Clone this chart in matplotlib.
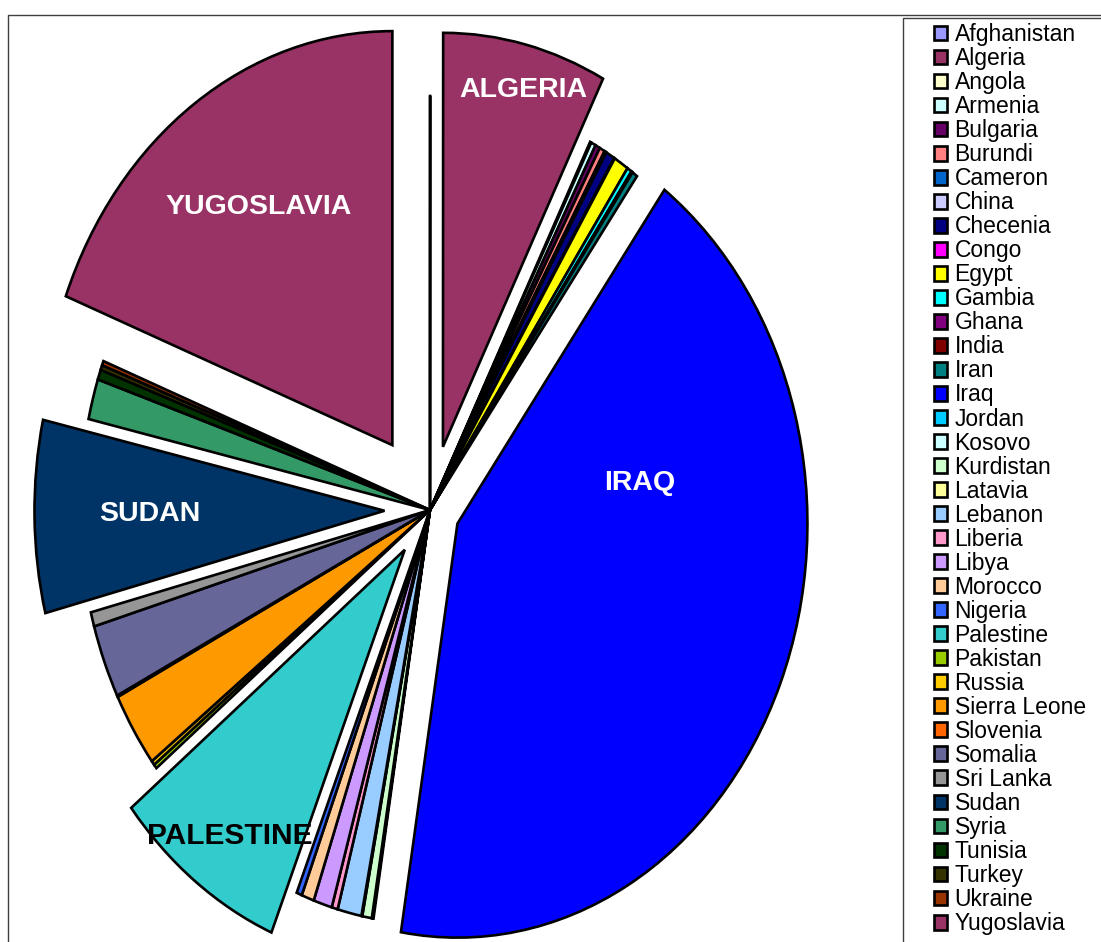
import matplotlib.pyplot as plt
from matplotlib.patches import Rectangle
from matplotlib.lines import Line2D

plt.rcParams["font.family"] = ["Liberation Sans", "DejaVu Sans"]

W, H = 1101, 942
CX, CY = 430, 510      # pie centre in pixels
RX, RY = 350, 414      # pie is stretched vertically

countries = ["Afghanistan", "Algeria", "Angola", "Armenia", "Bulgaria", "Burundi", "Cameron",
             "China", "Checenia", "Congo", "Egypt", "Gambia", "Ghana", "India", "Iran", "Iraq",
             "Jordan", "Kosovo", "Kurdistan", "Latavia", "Lebanon", "Liberia", "Libya", "Morocco",
             "Nigeria", "Palestine", "Pakistan", "Russia", "Sierra Leone", "Slovenia", "Somalia",
             "Sri Lanka", "Sudan", "Syria", "Tunisia", "Turkey", "Ukraine", "Yugoslavia"]
shares = [0.01, 7.55, 0.06, 0.22, 0.22, 0.25, 0.06,
          0.03, 0.42, 0.03, 0.69, 0.22, 0.03, 0.03, 0.25, 42.5,
          0.04, 0.04, 0.44, 0.04, 1.11, 0.28, 0.86, 0.58,
          0.25, 8.06, 0.17, 0.17, 2.92, 0.06, 2.86,
          0.56, 7.5, 1.58, 0.39, 0.19, 0.17, 19.14]
colors = ["#9999FF", "#993366", "#FFFFCC", "#CCFFFF", "#660066", "#FF8080", "#0066CC",
          "#CCCCFF", "#000080", "#FF00FF", "#FFFF00", "#00FFFF", "#800080", "#800000", "#008080", "#0000FF",
          "#00CCFF", "#CCFFFF", "#CCFFCC", "#FFFF99", "#99CCFF", "#FF99CC", "#CC99FF", "#FFCC99",
          "#3366FF", "#33CCCC", "#99CC00", "#FFCC00", "#FF9900", "#FF6600", "#666699",
          "#969696", "#003366", "#339966", "#003300", "#333300", "#993300", "#993366"]
exploded = {"Algeria": 0.157, "Iraq": 0.085, "Palestine": 0.12, "Sudan": 0.13, "Yugoslavia": 0.19}
explode = [exploded.get(c, 0.0) for c in countries]

# big-slice labels (text, pixel x, pixel y, colour, size)
slice_labels = [("ALGERIA", 523, 90, "white", 20.5), ("YUGOSLAVIA", 259, 207, "white", 20.5),
                ("IRAQ", 640, 483, "white", 20.5), ("SUDAN", 150, 514, "white", 20.5),
                ("PALESTINE", 230, 836, "black", 21.5)]


def px(x, y):
    return (x - CX) / RX, (CY - y) / RY


fig = plt.figure(figsize=(W / 100, H / 100), dpi=100)
ax = fig.add_axes([0, 0, 1, 1])
wedges, _ = ax.pie(shares, colors=colors, explode=explode, startangle=90, counterclock=False,
                   radius=1, frame=True,
                   wedgeprops=dict(edgecolor="black", linewidth=1.9, antialiased=True))
ax.set_aspect("auto")
ax.set_xlim(-CX / RX, (W - CX) / RX)
ax.set_ylim(-(H - CY) / RY, CY / RY)
ax.axis("off")

for txt, x, y, c, fs in slice_labels:
    ax.text(*px(x, y), txt, color=c, fontsize=fs, fontweight="bold", ha="center", va="center")

# chart-area border (left and top) and legend frame running off the edges
fig.lines.append(Line2D([8 / W, 8 / W, 1.01], [-0.01, 1 - 15 / H, 1 - 15 / H],
                        transform=fig.transFigure, color="#404040", linewidth=1))
fig.patches.append(Rectangle((903 / W, -0.05), 0.2, 1 - 18 / H + 0.05, transform=fig.transFigure,
                             fill=False, edgecolor="#404040", linewidth=1))
leg = fig.legend(wedges, countries, loc="upper left", bbox_to_anchor=(934 / W, 1 - 23 / H),
                 frameon=False, fontsize=16.5, labelspacing=0.045, handlelength=0.55,
                 handleheight=0.62, handletextpad=0.35, borderpad=0, borderaxespad=0)

fig.savefig("out.png", dpi=100)
